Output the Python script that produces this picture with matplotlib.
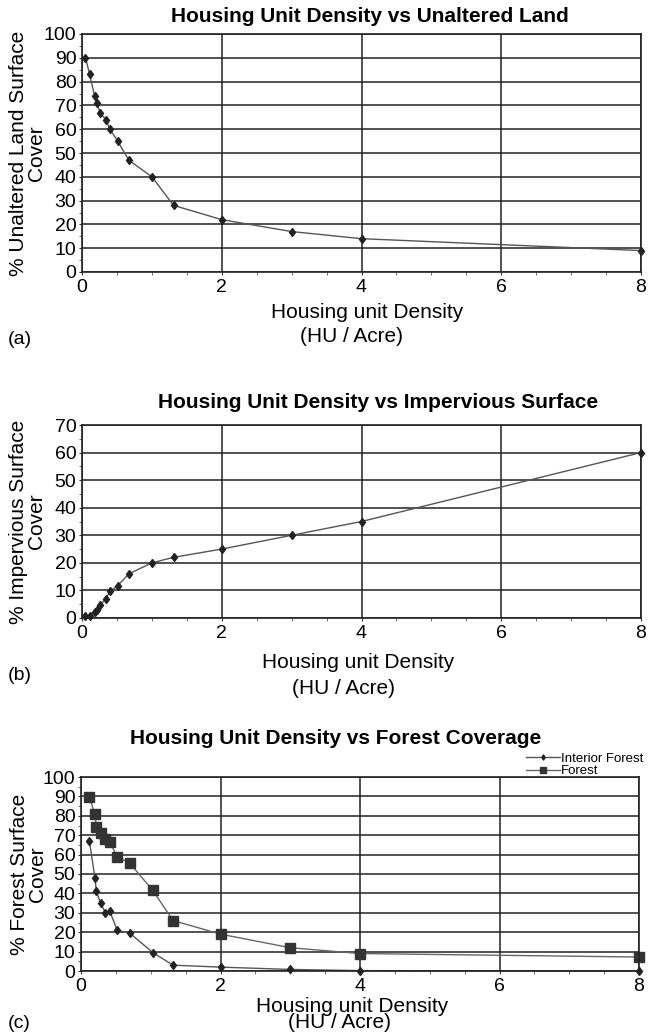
import matplotlib
matplotlib.use("Agg")
import matplotlib.pyplot as plt
from matplotlib.ticker import MultipleLocator

plt.rcParams['font.family'] = ['Liberation Sans', 'DejaVu Sans']

# (a) unaltered land
hu_a = [0.05, 0.11, 0.18, 0.21, 0.26, 0.34, 0.40, 0.51, 0.67, 1.0, 1.31, 2, 3, 4, 8]
unaltered = [90, 83, 74, 71, 67, 64, 60, 55, 47, 40, 28, 22, 17, 14, 9]

# (b) impervious surface
hu_b = [0.05, 0.11, 0.18, 0.21, 0.26, 0.34, 0.40, 0.51, 0.67, 1.0, 1.31, 2, 3, 4, 8]
impervious = [0.7, 0.7, 2, 3, 4.6, 7, 9.7, 11.7, 16, 20, 22, 25, 30, 35, 60]

# (c) forest coverage
hu_c = [0.12, 0.2, 0.22, 0.28, 0.35, 0.41, 0.52, 0.70, 1.03, 1.32, 2, 3, 4, 8]
interior_forest = [67, 48, 41, 35, 30, 31, 21, 19.5, 9.5, 3, 2, 0.8, 0.2, 0]
forest = [89.5, 81, 74, 71, 68, 66.5, 59, 55.5, 41.5, 26, 19, 12, 9, 7.2]

W, H = 648, 1034
fig = plt.figure(figsize=(W / 100, H / 100), dpi=100)

def px_axes(left, right, top, bottom):
    return fig.add_axes([left / W, 1 - bottom / H, (right - left) / W, (bottom - top) / H])

def ftext(x, y, s, **kw):
    return fig.text(x / W, 1 - y / H, s, va='center', **kw)

def style(ax, ymax, ylabel, label_right):
    ax.set_xlim(0, 8)
    ax.set_ylim(0, ymax)
    ax.xaxis.set_major_locator(MultipleLocator(2))
    ax.xaxis.set_minor_locator(MultipleLocator(0.5))
    ax.yaxis.set_major_locator(MultipleLocator(10))
    ax.yaxis.set_minor_locator(MultipleLocator(5))
    ax.grid(True, which='major', color='#222222', linewidth=1.1)
    ax.set_axisbelow(True)
    ax.tick_params(which='major', direction='out', length=2.5, labelsize=14, pad=1.5, color='#333333')
    ax.tick_params(axis='x', which='major', pad=2.5)
    ax.tick_params(which='minor', direction='out', length=2.5, color='#555555')
    for s in ax.spines.values():
        s.set_color('#222222')
        s.set_linewidth(1.2)
    ax.set_ylabel(ylabel, fontsize=15, linespacing=0.95)
    bb = ax.get_position()
    ax.yaxis.set_label_coords((label_right / W - bb.x0) / bb.width, 0.5)

def xlab(x1, y1, x2, y2):
    ftext(x1, y1, "Housing unit Density", fontsize=15, ha='center')
    ftext(x2, y2, "(HU / Acre)", fontsize=15, ha='center')

# panel a
ax1 = px_axes(82, 641, 34, 272)
ax1.plot(hu_a, unaltered, color='#555555', linewidth=1, marker='d',
         markersize=4.5, markerfacecolor='#222222', markeredgecolor='#222222', clip_on=False)
style(ax1, 100, "% Unaltered Land Surface\nCover", 46)
ftext(370, 17, "Housing Unit Density vs Unaltered Land", fontsize=15, fontweight='bold', ha='center')
xlab(367, 313, 352, 337)
ftext(8, 339, "(a)", fontsize=14, ha='left')

# panel b
ax2 = px_axes(82, 641, 425, 618)
ax2.plot(hu_b, impervious, color='#555555', linewidth=1, marker='d',
         markersize=4.5, markerfacecolor='#222222', markeredgecolor='#222222', clip_on=False)
style(ax2, 70, "% Impervious Surface\nCover", 46)
ftext(378, 402, "Housing Unit Density vs Impervious Surface", fontsize=15, fontweight='bold', ha='center')
xlab(358, 662, 344, 688)
ftext(8, 675, "(b)", fontsize=14, ha='left')

# panel c
ax3 = px_axes(81, 639, 777, 971)
ax3.plot(hu_c, interior_forest, color='#555555', linewidth=1, marker='d',
         markersize=4.5, markerfacecolor='#222222', markeredgecolor='#222222',
         label='Interior Forest', clip_on=False)
ax3.plot(hu_c, forest, color='#666666', linewidth=1, marker='s',
         markersize=6.5, markerfacecolor='#333333', markeredgecolor='#333333',
         label='Forest', clip_on=False)
style(ax3, 100, "% Forest Surface\nCover", 47)
ftext(336, 739, "Housing Unit Density vs Forest Coverage", fontsize=15, fontweight='bold', ha='center')
xlab(352, 1006, 340, 1023)
ftext(8, 1024, "(c)", fontsize=14, ha='left')
ax3.legend(loc='lower right', bbox_to_anchor=(1.02, 0.965), frameon=False,
           fontsize=9.5, handlelength=2.6, handletextpad=0.1,
           labelspacing=0.0, borderpad=0, markerscale=0.6)

fig.savefig("out.png", dpi=100)
